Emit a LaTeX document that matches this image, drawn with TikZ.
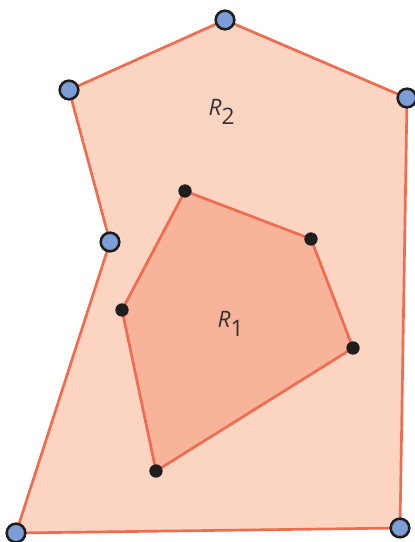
\documentclass[tikz,border=0pt]{standalone}
\usepackage{fontspec}
\setmainfont{Open Sans}
\definecolor{edgeC}{HTML}{F26B4F}
\definecolor{outerF}{HTML}{FCD4C2}
\definecolor{innerF}{HTML}{F8B49A}
\definecolor{blueP}{HTML}{7C9DD6}
\definecolor{darkP}{HTML}{1E1E1E}
\definecolor{txtC}{HTML}{333333}
\tikzset{
  bluept/.style={circle,draw=darkP,fill=blueP,line width=1.9pt,minimum size=14pt,inner sep=0pt},
  blackpt/.style={circle,fill=darkP,minimum size=10pt,inner sep=0pt},
  edgeline/.style={draw=edgeC,line width=2pt,line join=round},
  lbl/.style={text=txtC,font=\fontsize{17}{20}\selectfont\itshape}
}
\begin{document}
\begin{tikzpicture}[x=0.75pt,y=-0.75pt]
\useasboundingbox (0,0) rectangle (414,542);
% outer vertices
\coordinate (A) at (225,20);
\coordinate (B) at (407,98);
\coordinate (C) at (400,528);
\coordinate (D) at (16,533);
\coordinate (E) at (110,242);
\coordinate (F) at (69,90);
% inner vertices
\coordinate (P) at (185,191);
\coordinate (Q) at (311,239);
\coordinate (S) at (353,348);
\coordinate (T) at (156,471);
\coordinate (U) at (122,310);
\path[edgeline,fill=outerF] (A) -- (B) -- (C) -- (D) -- (E) -- (F) -- cycle;
\path[edgeline,fill=innerF] (P) -- (Q) -- (S) -- (T) -- (U) -- cycle;
\node[lbl] (r2) at (222,112) {R\textsubscript{\fontsize{17}{20}\selectfont\upshape 2}};
\node[lbl] (r1) at (231,324) {R\textsubscript{\fontsize{17}{20}\selectfont\upshape 1}};
\foreach \p in {A,B,C,D,E,F} \node[bluept] (n\p) at (\p) {};
\foreach \p in {P,Q,S,T,U} \node[blackpt] (n\p) at (\p) {};
\end{tikzpicture}
\end{document}
